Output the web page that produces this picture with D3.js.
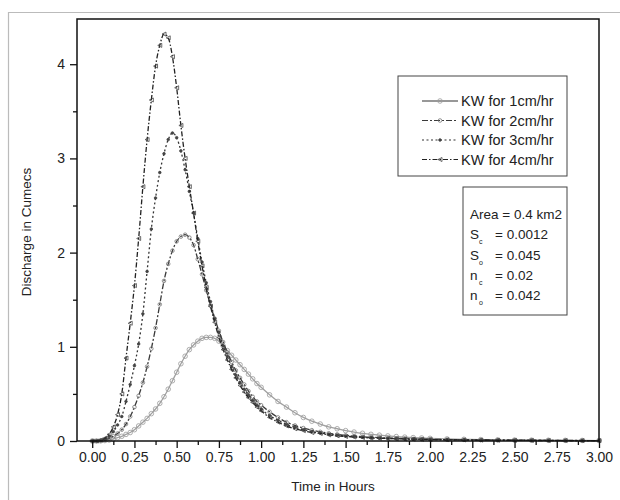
<!DOCTYPE html>
<html>
<head>
<meta charset="utf-8">
<script src="https://cdn.jsdelivr.net/npm/d3@7"></script>
<style>
  body { margin: 0; background: #fff; }
  text { font-family: "Liberation Sans", Arial, sans-serif; fill: #222; }
</style>
</head>
<body>
<svg id="chart" width="620" height="500"></svg>
<script>
// time in hours
var times = [0, 0.025, 0.05, 0.075, 0.1, 0.125, 0.15, 0.175, 0.2, 0.225, 0.25, 0.275, 0.3, 0.325, 0.35, 0.375,
  0.4, 0.425, 0.45, 0.475, 0.5, 0.525, 0.55, 0.575, 0.6, 0.625, 0.65, 0.675, 0.7, 0.725, 0.75, 0.775,
  0.8, 0.825, 0.85, 0.875, 0.9, 0.925, 0.95, 0.975, 1.0,
  1.05, 1.1, 1.15, 1.2, 1.25, 1.3, 1.35, 1.4, 1.45, 1.5, 1.55, 1.6, 1.65, 1.7, 1.75, 1.8, 1.85, 1.9, 1.95, 2.0,
  2.1, 2.2, 2.3, 2.4, 2.5, 2.6, 2.7, 2.8, 2.9, 3.0]

// discharge in cumecs
var kw1 = [0, 0, 0.002, 0.005, 0.01, 0.02, 0.035, 0.05, 0.07, 0.09, 0.12, 0.16, 0.2, 0.24, 0.29, 0.34,
  0.4, 0.47, 0.55, 0.64, 0.73, 0.82, 0.9, 0.97, 1.02, 1.06, 1.09, 1.1, 1.1, 1.09, 1.06, 1.01,
  0.96, 0.91, 0.86, 0.81, 0.76, 0.71, 0.66, 0.61, 0.57,
  0.49, 0.42, 0.36, 0.3, 0.25, 0.21, 0.18, 0.15, 0.13, 0.11, 0.095, 0.082, 0.071, 0.062, 0.054, 0.047, 0.041, 0.036, 0.032, 0.028,
  0.022, 0.018, 0.015, 0.012, 0.01, 0.009, 0.008, 0.007, 0.006, 0.005]

var kw2 = [0, 0, 0.003, 0.01, 0.025, 0.05, 0.08, 0.12, 0.18, 0.26, 0.36, 0.48, 0.62, 0.79, 0.98, 1.2,
  1.45, 1.7, 1.88, 2.02, 2.12, 2.17, 2.19, 2.16, 2.08, 1.93, 1.77, 1.6, 1.44, 1.3, 1.17, 1.05,
  0.94, 0.84, 0.75, 0.67, 0.6, 0.53, 0.47, 0.42, 0.38,
  0.31, 0.25, 0.2, 0.165, 0.137, 0.115, 0.097, 0.082, 0.07, 0.06, 0.052, 0.045, 0.04, 0.035, 0.031, 0.028, 0.025, 0.022, 0.02, 0.018,
  0.015, 0.013, 0.011, 0.01, 0.009, 0.008, 0.007, 0.006, 0.005, 0.005]

var kw3 = [0, 0, 0.005, 0.02, 0.05, 0.1, 0.17, 0.26, 0.42, 0.6, 0.8, 1.03, 1.35, 1.8, 2.25, 2.58,
  2.85, 3.05, 3.2, 3.27, 3.22, 3.08, 2.88, 2.65, 2.42, 2.15, 1.9, 1.68, 1.48, 1.3, 1.15, 1.01,
  0.9, 0.79, 0.7, 0.62, 0.55, 0.49, 0.43, 0.38, 0.34,
  0.27, 0.22, 0.175, 0.145, 0.12, 0.1, 0.085, 0.072, 0.062, 0.053, 0.046, 0.04, 0.035, 0.031, 0.028, 0.025, 0.022, 0.02, 0.018, 0.016,
  0.014, 0.012, 0.01, 0.009, 0.008, 0.007, 0.006, 0.005, 0.005, 0.004]

var kw4 = [0, 0, 0.01, 0.03, 0.07, 0.15, 0.28, 0.5, 0.88, 1.25, 1.65, 2.15, 2.7, 3.2, 3.62, 3.98,
  4.2, 4.32, 4.28, 4.08, 3.75, 3.35, 3.0, 2.7, 2.42, 2.12, 1.86, 1.63, 1.43, 1.26, 1.1, 0.97,
  0.86, 0.76, 0.67, 0.59, 0.52, 0.46, 0.41, 0.36, 0.32,
  0.25, 0.2, 0.16, 0.13, 0.11, 0.09, 0.08, 0.065, 0.055, 0.048, 0.042, 0.037, 0.033, 0.029, 0.026, 0.023, 0.021, 0.019, 0.017, 0.015,
  0.013, 0.011, 0.009, 0.008, 0.007, 0.006, 0.005, 0.005, 0.004, 0.004]

var seriesNames = ['KW for 1cm/hr', 'KW for 2cm/hr', 'KW for 3cm/hr', 'KW for 4cm/hr']
var xTicks = [0, 0.25, 0.5, 0.75, 1, 1.25, 1.5, 1.75, 2, 2.25, 2.5, 2.75, 3]
var yTicks = [0, 1, 2, 3, 4]
var paramLabels = [['Area = 0.4 km2', ''], ['S', 'c', '= 0.0012'], ['S', 'o', ' = 0.045'], ['n', 'c', '= 0.02'], ['n', 'o', '= 0.042']]

var svg = d3.select('#chart')
var margin = {top: 19, right: 21, bottom: 59, left: 77}
var width = 620 - margin.left - margin.right
var height = 500 - margin.top - margin.bottom

// light outer frame of the figure
svg.append('path')
  .attr('d', 'M8.5,600 V12.5 H640')
  .attr('fill', 'none')
  .attr('stroke', '#bbb')
  .attr('stroke-width', 1.2)

var g = svg.append('g').attr('transform', 'translate(' + margin.left + ',' + margin.top + ')')

var x = d3.scaleLinear().domain([-0.09, 3]).range([0, width])
var y = d3.scaleLinear().domain([0, 4.48]).range([height, 0])

var styles = [
  {stroke: '#a0a0a0', dash: null, marker: 'circle', mfill: 'none', mstroke: '#9a9a9a', r: 2.3},
  {stroke: '#3a3a3a', dash: '6,2,2,2', marker: 'circle', mfill: 'none', mstroke: '#777', r: 1.8},
  {stroke: '#333', dash: '2,2.5', marker: 'dot', mfill: '#444', mstroke: '#444', r: 1.3},
  {stroke: '#222', dash: '5,2,1.5,2', marker: 'tri', mfill: 'none', mstroke: '#444', r: 2}
]
var allSeries = [kw1, kw2, kw3, kw4]

function drawMarker(sel, st, cx, cy) {
  if (st.marker === 'tri') {
    var r = st.r
    sel.append('path')
      .attr('d', 'M' + (cx - r) + ',' + cy + 'L' + (cx + r) + ',' + (cy - r) + 'L' + (cx + r) + ',' + (cy + r) + 'Z')
      .attr('fill', st.mfill).attr('stroke', st.mstroke).attr('stroke-width', 0.8)
  } else {
    sel.append('circle').attr('cx', cx).attr('cy', cy).attr('r', st.r)
      .attr('fill', st.mfill).attr('stroke', st.mstroke).attr('stroke-width', 0.8)
  }
}

var line = d3.line()
  .x(function(d) { return x(d[0]) })
  .y(function(d) { return y(d[1]) })
  .curve(d3.curveMonotoneX)

allSeries.forEach(function(vals, i) {
  var st = styles[i]
  var data = times.map(function(t, j) { return [t, vals[j]] })
  var sg = g.append('g').attr('class', 'series')
  sg.append('path')
    .datum(data)
    .attr('fill', 'none')
    .attr('stroke', st.stroke)
    .attr('stroke-width', 1.3)
    .attr('stroke-dasharray', st.dash)
    .attr('d', line)
  data.forEach(function(d) { drawMarker(sg, st, x(d[0]), y(d[1])) })
})

// axes
g.append('g')
  .attr('transform', 'translate(0,' + height + ')')
  .call(d3.axisBottom(x).tickValues(xTicks).tickFormat(d3.format('.2f')).tickSize(7).tickPadding(4))
g.append('g')
  .attr('transform', 'translate(0,' + height + ')')
  .call(d3.axisBottom(x).tickValues(d3.range(0.125, 3, 0.25)).tickFormat('').tickSize(4))
g.append('g')
  .call(d3.axisLeft(y).tickValues(yTicks).tickFormat(d3.format('d')).tickSize(7).tickPadding(5))
g.append('g')
  .call(d3.axisLeft(y).tickValues([0.5, 1.5, 2.5, 3.5]).tickFormat('').tickSize(4))

g.selectAll('.domain').remove()
g.selectAll('.tick line').attr('stroke', '#111').attr('stroke-width', 1.3)
g.selectAll('.tick text').style('font-size', '14px').attr('fill', '#222')

g.append('rect')
  .attr('width', width).attr('height', height)
  .attr('fill', 'none').attr('stroke', '#111').attr('stroke-width', 1.5)

svg.append('text')
  .attr('x', 333).attr('y', 491)
  .attr('text-anchor', 'middle')
  .style('font-size', '13.5px')
  .text('Time in Hours')

svg.append('text')
  .attr('transform', 'translate(31,232) rotate(-90)')
  .attr('text-anchor', 'middle')
  .style('font-size', '13.5px')
  .text('Discharge in Cumecs')

// legend
var leg = svg.append('g').attr('transform', 'translate(398,76)')
leg.append('rect').attr('width', 169).attr('height', 100)
  .attr('fill', '#fff').attr('stroke', '#444').attr('stroke-width', 1)
seriesNames.forEach(function(name, i) {
  var st = styles[i]
  var ly = 25 + i * 19.5
  leg.append('line')
    .attr('x1', 24).attr('x2', 60).attr('y1', ly).attr('y2', ly)
    .attr('stroke', i === 0 ? '#333' : st.stroke)
    .attr('stroke-width', 1.2)
    .attr('stroke-dasharray', st.dash)
  drawMarker(leg, st, 42, ly)
  leg.append('text').attr('x', 63).attr('y', ly + 5)
    .style('font-size', '14.5px').text(name)
})

// parameter box
var pb = svg.append('g').attr('transform', 'translate(463,187)')
pb.append('rect').attr('width', 104).attr('height', 128)
  .attr('fill', '#fff').attr('stroke', '#444').attr('stroke-width', 1)
paramLabels.forEach(function(p, i) {
  var ty = 32 + i * 20.3
  if (p.length === 2) {
    pb.append('text').attr('x', 7).attr('y', ty).style('font-size', '13.5px').text(p[0])
  } else {
    pb.append('text').attr('x', 7).attr('y', ty).style('font-size', '13.5px').text(p[0])
    pb.append('text').attr('x', 16).attr('y', ty + 5).style('font-size', '7px').text(p[1])
    pb.append('text').attr('x', 32).attr('y', ty).style('font-size', '13.5px').text(p[2])
  }
})
</script>
</body>
</html>
